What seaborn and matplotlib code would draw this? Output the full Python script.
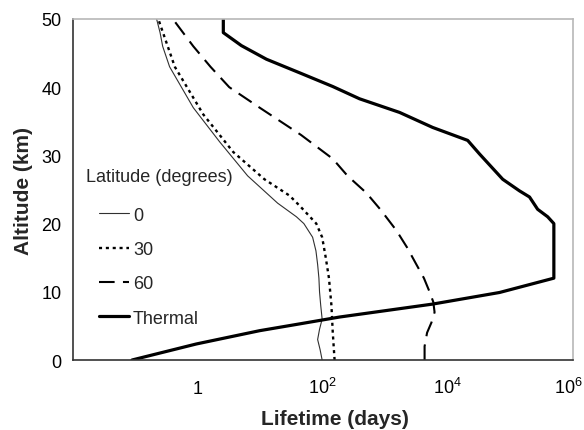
import matplotlib
matplotlib.use("Agg")
import matplotlib.pyplot as plt
import matplotlib.transforms as mtransforms
import seaborn as sns
from matplotlib.lines import Line2D
from matplotlib.ticker import FixedLocator, NullLocator

sns.set_theme(style="white")
plt.rcParams['font.family'] = ['Liberation Sans', 'DejaVu Sans']
plt.rcParams['mathtext.fontset'] = 'custom'
plt.rcParams['mathtext.rm'] = 'Liberation Sans'
plt.rcParams['mathtext.it'] = 'Liberation Sans:italic'
plt.rcParams['mathtext.bf'] = 'Liberation Sans:bold'

# ---- data (altitude km, lifetime days) ----
lat0_alt = [0, 1.5, 3, 4.5, 6, 8, 10, 12, 14, 16, 18, 20, 21, 23, 27, 32, 37, 43, 46, 48, 50]
lat0_days = [98, 91, 83, 89, 98, 93, 89, 87, 83, 78, 69, 50, 38, 19, 6.3, 2.24, 0.85, 0.355, 0.275, 0.25, 0.22]

lat30_alt = [0, 4, 8, 12, 15, 18, 20, 22.6, 24.1, 26.5, 30.5, 36, 43, 50]
lat30_days = [155, 145, 138, 126, 112, 98, 79, 43, 29.5, 11.7, 3.7, 1.23, 0.43, 0.234]

lat60_alt = [0, 2, 4, 5.5, 7, 8.5, 10, 12, 14, 16.5, 19, 22, 24.5, 27, 29.5, 33, 37, 40, 43, 46, 50]
lat60_days = [4270, 4270, 4680, 5500, 6170, 5890, 5130, 4170, 3160, 2240, 1510, 850, 500, 250,
              145, 45, 9.8, 3.2, 1.6, 0.85, 0.40]

thermal_alt = [0, 2.35, 4.3, 5.3, 6.3, 8.2, 9.9, 12, 20, 21, 22.1, 23.9, 24.8, 26.5, 30.2, 32.2,
               34.1, 36.3, 38.3, 40.1, 42.1, 44.1, 46.1, 48, 50]
thermal_days = [0.089, 0.95, 9.8, 43, 186, 5750, 67600, 500000, 500000, 398000, 275000, 204000,
                141000, 76000, 32400, 20900, 5750, 1700, 389, 145, 43, 12.6, 5.0, 2.57, 2.57]

legend_labels = ["0", "30", "60", "Thermal"]
xtick_vals = [1e-2, 1, 1e2, 1e4, 1e6]
xtick_labels = ["", "1", r"$\mathregular{10^{2}}$", r"$\mathregular{10^{4}}$", r"$\mathregular{10^{6}}$"]
ytick_vals = [0, 10, 20, 30, 40, 50]

fig = plt.figure(figsize=(5.84, 4.31), dpi=100)
ax = fig.add_axes([0.1245, 0.1624, 0.8561, 0.7912])

styles = [
    dict(color="#303030", lw=0.8, ls="-"),
    dict(color="black", lw=1.7, ls=(0, (1.3, 1.6))),
    dict(color="black", lw=1.5, ls=(0, (7.5, 4))),
    dict(color="black", lw=2.3, ls="-"),
]
series = [(lat0_days, lat0_alt), (lat30_days, lat30_alt), (lat60_days, lat60_alt), (thermal_days, thermal_alt)]
for (xs, ys), st in zip(series, styles):
    sns.lineplot(x=xs, y=ys, sort=False, estimator=None, ax=ax,
                 color=st["color"], linewidth=st["lw"], linestyle=st["ls"])

ax.set_xscale("log")
ax.set_xlim(1e-2, 1e6)
ax.set_ylim(0, 50)
ax.xaxis.set_major_locator(FixedLocator(xtick_vals))
ax.set_xticklabels(xtick_labels)
ax.xaxis.set_minor_locator(NullLocator())
ax.set_yticks(ytick_vals)
ax.tick_params(axis="both", which="major", labelsize=13, colors="#333333", labelcolor="black",
               direction="out", length=5, width=1)
ax.tick_params(axis="x", pad=19)
ax.tick_params(axis="y", pad=3)
for t in ax.get_xticklabels():
    t.set_verticalalignment("baseline")
last = ax.get_xticklabels()[-1]
last.set_transform(last.get_transform() + mtransforms.ScaledTranslation(-4 / 100, 0, fig.dpi_scale_trans))

for s in ["left", "bottom"]:
    ax.spines[s].set_color("#333333")
    ax.spines[s].set_linewidth(1.2)
for s in ["top", "right"]:
    ax.spines[s].set_color("#b8b8b8")
    ax.spines[s].set_linewidth(1.2)

ax.set_xlabel("Lifetime (days)", fontsize=15, fontweight="bold")
ax.xaxis.set_label_coords(0.525, -0.173)
ax.xaxis.label.set_verticalalignment("center")
ax.set_ylabel("Altitude (km)", fontsize=15, fontweight="bold", labelpad=6)

handles = [Line2D([], [], color=st["color"], linewidth=st["lw"], linestyle=st["ls"]) for st in styles]
ax.text(0.027, 0.537, "Latitude (degrees)", transform=ax.transAxes, fontsize=13,
        va="center", ha="left")
leg = ax.legend(handles, legend_labels, loc="upper left", bbox_to_anchor=(0.052, 0.45),
                frameon=False, fontsize=13, handlelength=1.7, handletextpad=0.2,
                labelspacing=0.96, borderpad=0, borderaxespad=0)

fig.savefig("out.png", dpi=100)
